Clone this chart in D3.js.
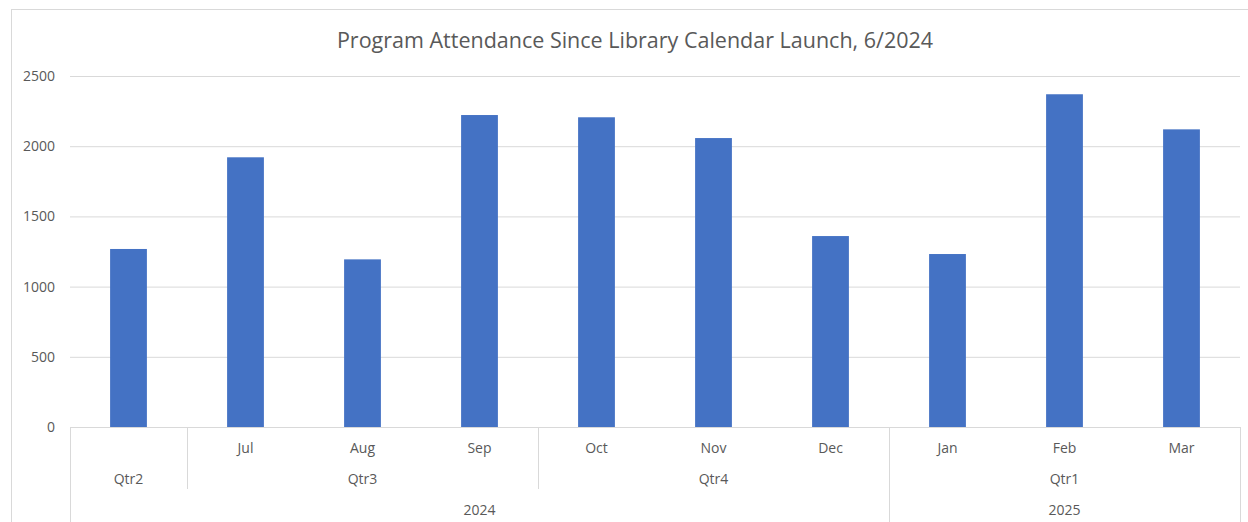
<!DOCTYPE html>
<html>
<head>
<meta charset="utf-8">
<script src="https://cdn.jsdelivr.net/npm/d3@7"></script>
<style>
  body { margin: 0; background: #fff; }
  svg { display: block; }
</style>
</head>
<body>
<div id="chart"></div>
<script>
// chart data
const months = ["", "Jul", "Aug", "Sep", "Oct", "Nov", "Dec", "Jan", "Feb", "Mar"]
const attendance = [1268, 1921, 1194, 2222, 2206, 2058, 1360, 1232, 2370, 2120]
const quarters = ["Qtr2", "Qtr3", "Qtr3", "Qtr3", "Qtr4", "Qtr4", "Qtr4", "Qtr1", "Qtr1", "Qtr1"]
const years = ["2024", "2024", "2024", "2024", "2024", "2024", "2024", "2025", "2025", "2025"]
const yTicks = [0, 500, 1000, 1500, 2000, 2500]

const width = 1248, height = 522
const plotLeft = 70, plotRight = 1240, plotTop = 76, plotBottom = 427
const textColor = "#595959"
const lineColor = "#d9d9d9"
const font = "'Open Sans', sans-serif"

const svg = d3.select("#chart")
  .append("svg")
  .attr("width", width)
  .attr("height", height)

// outer chart border
svg.append("rect")
  .attr("x", 11.5)
  .attr("y", 9.5)
  .attr("width", 1260)
  .attr("height", 600)
  .attr("fill", "#fff")
  .attr("stroke", lineColor)

const keys = d3.range(months.length)

const xScale = d3.scaleBand()
  .domain(keys)
  .range([plotLeft, plotRight])
  .paddingInner(0.6855)
  .paddingOuter(0.6855 / 2)

const band = (plotRight - plotLeft) / keys.length

const yScale = d3.scaleLinear()
  .domain([0, 2500])
  .range([plotBottom, plotTop])

// gridlines + y labels
const yAxis = d3.axisLeft(yScale)
  .tickValues(yTicks)
  .tickFormat(d3.format("d"))
  .tickSize(-(plotRight - plotLeft))
  .tickPadding(15)

svg.append("g")
  .attr("transform", `translate(${plotLeft},0)`)
  .call(yAxis)
  .call(g => g.select(".domain").remove())
  .call(g => g.selectAll(".tick line")
    .attr("stroke", lineColor)
    .attr("stroke-width", 1))
  .call(g => g.selectAll(".tick text")
    .attr("fill", textColor)
    .style("font-family", font)
    .style("font-size", "14px"))

// bars
svg.append("g")
  .selectAll("rect")
  .data(keys)
  .join("rect")
  .attr("x", d => xScale(d))
  .attr("y", d => yScale(attendance[d]))
  .attr("width", xScale.bandwidth())
  .attr("height", d => plotBottom - yScale(attendance[d]))
  .attr("fill", "#4472c4")

// category axis (multi-level)
const axis = svg.append("g")
  .attr("stroke", lineColor)
  .attr("stroke-width", 1)

axis.append("line")
  .attr("x1", plotLeft).attr("x2", plotRight)
  .attr("y1", plotBottom + 0.5).attr("y2", plotBottom + 0.5)

const rowMonth = 448, rowQtr = 479, rowYear = 510
const qtrBottom = 489, yearBottom = height

// runs of equal labels (within a year)
const groups = arr => {
  const out = []
  arr.forEach((v, i) => {
    const prevKey = i > 0 ? years[i - 1] + arr[i - 1] : null
    const key = years[i] + v
    if (i > 0 && prevKey === key) out[out.length - 1].end = i
    else out.push({ label: v, start: i, end: i })
  })
  return out
}

const qGroups = groups(quarters)
const yGroups = groups(years)

const edge = i => Math.round(plotLeft + i * band) + 0.5

// year boundaries, full height
const yearEdges = [0].concat(yGroups.map(g => g.end + 1))
axis.selectAll(".yedge")
  .data(yearEdges)
  .join("line")
  .attr("x1", edge).attr("x2", edge)
  .attr("y1", plotBottom).attr("y2", yearBottom)

// quarter boundaries not on year edges
const qEdges = qGroups.map(g => g.end + 1).filter(e => !yearEdges.includes(e))
axis.selectAll(".qedge")
  .data(qEdges)
  .join("line")
  .attr("x1", edge).attr("x2", edge)
  .attr("y1", plotBottom).attr("y2", qtrBottom)

const labels = svg.append("g")
  .attr("fill", textColor)
  .attr("text-anchor", "middle")
  .style("font-family", font)
  .style("font-size", "14px")

labels.selectAll(".m")
  .data(keys)
  .join("text")
  .attr("x", d => xScale(d) + xScale.bandwidth() / 2)
  .attr("y", rowMonth)
  .attr("dy", "0.35em")
  .text(d => months[d])

labels.selectAll(".q")
  .data(qGroups)
  .join("text")
  .attr("x", g => plotLeft + (g.start + g.end + 1) / 2 * band)
  .attr("y", rowQtr)
  .attr("dy", "0.35em")
  .text(g => g.label)

labels.selectAll(".y")
  .data(yGroups)
  .join("text")
  .attr("x", g => plotLeft + (g.start + g.end + 1) / 2 * band)
  .attr("y", rowYear)
  .attr("dy", "0.35em")
  .text(g => g.label)

// title
svg.append("text")
  .text("Program Attendance Since Library Calendar Launch, 6/2024")
  .attr("x", 635)
  .attr("y", 48)
  .attr("text-anchor", "middle")
  .attr("fill", textColor)
  .style("font-family", font)
  .style("font-size", "21.5px")
</script>
</body>
</html>
